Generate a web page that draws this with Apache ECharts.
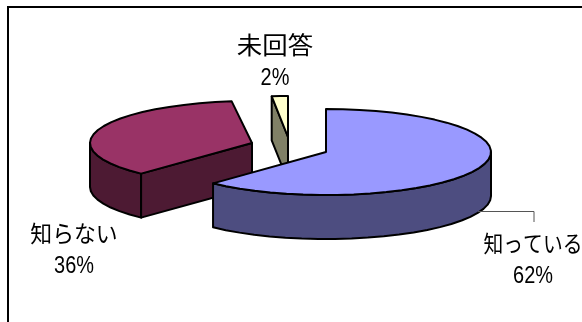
<!DOCTYPE html>
<html>
<head>
<meta charset="utf-8">
<style>html,body{margin:0;padding:0;background:#fff;overflow:hidden}#chart{width:582px;height:322px}</style>
<script src="https://cdn.jsdelivr.net/npm/echarts@6/dist/echarts.min.js"></script>
</head>
<body>
<div id="chart"></div>
<script>
// Survey shares, in clockwise order from twelve o'clock
const categories = ['知っている', '知らない', '未回答'];
const shares = [62, 36, 2];

// Tilted-disc layout of the exploded slices
const depth = 44;
const sliceLayout = [
  { cx: 326, cy: 152, rx: 165, ry: 43, top: '#9999FF', side: '#4D4D80', z: 30 },
  { cx: 252, cy: 143, rx: 162, ry: 42, top: '#993366', side: '#4D1A33', z: 10 },
  { cx: 288, cy: 137, rx: 130, ry: 41, top: '#FFFFCC', side: '#808066', z: 20 }
];
const labelLayout = [
  { x: 533, y: 243, size: 23, stretch: 0.86, py: 276 },
  { x: 74, y: 233, size: 23, stretch: 0.95, py: 266 },
  { x: 275, y: 45, size: 24, stretch: 1.06, py: 78 }
];

const total = shares.reduce((a, b) => a + b, 0);
const ink = { stroke: '#000', lineWidth: 2, lineJoin: 'round' };

// Point on a slice rim; degrees run clockwise from the top
function rim(l, deg, drop) {
  const t = deg * Math.PI / 180;
  return [l.cx + l.rx * Math.sin(t), l.cy - l.ry * Math.cos(t) + (drop || 0)];
}

function arc(l, from, to, drop) {
  const pts = [];
  const n = Math.max(1, Math.ceil(Math.abs(to - from) / 6));
  for (let i = 0; i <= n; i++) pts.push(rim(l, from + (to - from) * i / n, drop));
  return pts;
}

function poly(points, fill, z) {
  return { type: 'polygon', z2: z, shape: { points }, style: { fill, ...ink } };
}

function caption(x, y, text, font, stretch) {
  return {
    type: 'text', z2: 50, x, y, scaleX: stretch,
    style: { x: 0, y: 0, text, fill: '#000', align: 'center', verticalAlign: 'middle', font }
  };
}

function renderSlice(params, api) {
  const i = api.value(0);
  const value = api.value(1);
  const l = sliceLayout[i];
  const lab = labelLayout[i];
  let before = 0;
  for (let k = 0; k < i; k++) before += shares[k];
  const a0 = before / total * 360;
  const a1 = (before + value) / total * 360;
  const apex = [l.cx, l.cy];
  const children = [];

  // Outer wall: only the part of the rim facing the viewer (90° to 270°)
  const w0 = Math.max(a0, 90), w1 = Math.min(a1, 270);
  if (w1 > w0) {
    const upper = arc(l, w0, w1, 0);
    const lower = arc(l, w1, w0, depth);
    children.push(poly(upper.concat(lower), l.side, l.z));
  }
  // Cut face along the leading radius when it faces the viewer
  if (a1 > 180 && a0 > 180) {
    const p = rim(l, a0);
    children.push(poly([apex, p, [p[0], p[1] + depth], [apex[0], apex[1] + depth]], l.side, l.z + 1));
  }
  // Top surface
  children.push(poly([apex].concat(arc(l, a0, a1, 0)), l.top, l.z + 2));

  // Category name and percentage
  children.push(caption(lab.x, lab.y, categories[i], lab.size + 'px "Noto Sans CJK JP"', lab.stretch));
  children.push(caption(lab.x, lab.py, value + '%', '24px "Liberation Sans"', 0.83));
  return { type: 'group', children };
}

const chart = echarts.init(document.getElementById('chart'), null, { renderer: 'canvas' });
chart.setOption({
  animation: false,
  backgroundColor: '#fff',
  graphic: [
    { type: 'rect', z: 0, shape: { x: 8, y: 7, width: 800, height: 500 }, style: { fill: '#fff', stroke: '#000', lineWidth: 2 } },
    { type: 'polyline', z: 5, shape: { points: [[478, 211.5], [534, 211.5], [534, 222]] }, style: { fill: 'none', stroke: '#555', lineWidth: 1 } }
  ],
  series: [{
    type: 'custom',
    coordinateSystem: 'none',
    silent: true,
    renderItem: renderSlice,
    data: shares.map((v, i) => [i, v])
  }]
});
</script>
</body>
</html>
